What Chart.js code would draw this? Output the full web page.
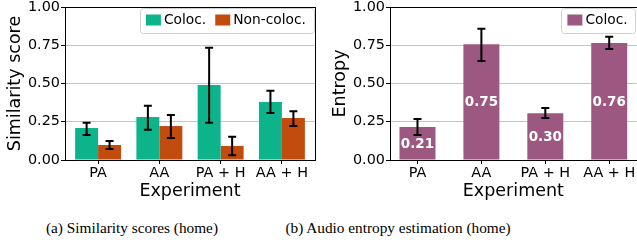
<!DOCTYPE html>
<html>
<head>
<meta charset="utf-8">
<script src="https://cdn.jsdelivr.net/npm/chart.js@4.4.0/dist/chart.umd.min.js"></script>
<style>
  html, body { margin: 0; padding: 0; background: #fff; }
  body { width: 637px; height: 243px; overflow: hidden; position: relative; }
  canvas { position: absolute; top: 0; }
  #simChart { left: 0; }
  #entChart { left: 325px; }
  .caption {
    position: absolute; top: 219px; width: 300px; text-align: center;
    font-family: "Liberation Serif", "Times New Roman", serif; font-size: 15.3px; color: #000;
    line-height: 17px; white-space: nowrap;
  }
</style>
</head>
<body>
<canvas id="simChart" width="320" height="200"></canvas>
<canvas id="entChart" width="320" height="200"></canvas>
<div class="caption" style="left: -18px;">(a) Similarity scores (home)</div>
<div class="caption" style="left: 248px;">(b) Audio entropy estimation (home)</div>
<script>
// values
const categories = ['PA', 'AA', 'PA + H', 'AA + H'];
const yTicks = [0, 0.25, 0.5, 0.75, 1];

const simColoc = [0.209, 0.281, 0.490, 0.379];
const simColocLow = [0.163, 0.198, 0.244, 0.307];
const simColocHigh = [0.244, 0.355, 0.734, 0.453];
const simNonColoc = [0.098, 0.222, 0.092, 0.275];
const simNonColocLow = [0.072, 0.144, 0.031, 0.222];
const simNonColocHigh = [0.124, 0.294, 0.152, 0.318];

const entropy = [0.215, 0.757, 0.306, 0.764];
const entropyLow = [0.163, 0.647, 0.275, 0.725];
const entropyHigh = [0.268, 0.858, 0.340, 0.806];
const entropyLabels = ['0.21', '0.75', '0.30', '0.76'];

const FONT = 'DejaVu Sans';
const TEAL = '#0db48b';
const RUST = '#c24c0e';
const PLUM = '#9d5881';

// error bars from dataset.errLow / errHigh
const errorBarPlugin = {
    id: 'errorBars',
    afterDatasetsDraw(chart) {
        const ctx = chart.ctx;
        const y = chart.scales.y;
        ctx.save();
        ctx.strokeStyle = '#000';
        ctx.lineWidth = 2;
        chart.data.datasets.forEach((ds, di) => {
            if (!ds.errLow) return;
            chart.getDatasetMeta(di).data.forEach((bar, i) => {
                const top = y.getPixelForValue(ds.errHigh[i]);
                const bot = y.getPixelForValue(ds.errLow[i]);
                ctx.beginPath();
                ctx.moveTo(bar.x, top); ctx.lineTo(bar.x, bot);
                ctx.moveTo(bar.x - 4, top); ctx.lineTo(bar.x + 4, top);
                ctx.moveTo(bar.x - 4, bot); ctx.lineTo(bar.x + 4, bot);
                ctx.stroke();
            });
        });
        ctx.restore();
    }
};

// white value labels in the middle of the bar
const valueLabelPlugin = {
    id: 'valueLabels',
    afterDatasetsDraw(chart) {
        const ctx = chart.ctx;
        ctx.save();
        ctx.fillStyle = '#fff';
        ctx.font = 'bold 13.5px "' + FONT + '"';
        ctx.textAlign = 'center';
        ctx.textBaseline = 'middle';
        chart.data.datasets.forEach((ds, di) => {
            if (!ds.valueLabels) return;
            chart.getDatasetMeta(di).data.forEach((bar, i) => {
                ctx.fillText(ds.valueLabels[i], bar.x, (bar.y + bar.base) / 2 + 1);
            });
        });
        ctx.restore();
    }
};

// black box around the plot and a matplotlib-like legend in the upper right
const framePlugin = {
    id: 'frameLegend',
    afterDraw(chart) {
        const ctx = chart.ctx;
        const a = chart.chartArea;
        ctx.save();
        ctx.strokeStyle = '#000';
        ctx.lineWidth = 1;
        ctx.strokeRect(Math.round(a.left) + 0.5, Math.round(a.top) + 0.5,
            Math.round(a.right - a.left), Math.round(a.bottom - a.top));

        ctx.font = '13.8px "' + FONT + '"';
        const items = chart.data.datasets.map(ds => ({ label: ds.label, color: ds.backgroundColor, w: ctx.measureText(ds.label).width }));
        let boxW = 6 + 8;
        items.forEach((it, i) => { boxW += 15 + 3 + it.w + (i ? 9 : 0); });
        const boxH = 25;
        const bx = a.right - 1 - boxW;
        const by = a.top + 0.5;
        ctx.beginPath();
        ctx.roundRect(Math.round(bx) + 0.5, Math.round(by) + 0.5, Math.round(boxW), boxH, 3);
        ctx.fillStyle = 'rgba(255,255,255,0.85)';
        ctx.fill();
        ctx.strokeStyle = '#d0d0d0';
        ctx.stroke();
        let x = bx + 6;
        const cy = by + boxH / 2;
        ctx.textBaseline = 'middle';
        ctx.textAlign = 'left';
        items.forEach((it, i) => {
            if (i) x += 9;
            ctx.fillStyle = it.color;
            ctx.fillRect(x, cy - 5.5, 15, 11);
            x += 18;
            ctx.fillStyle = '#000';
            ctx.fillText(it.label, x, cy + 0.5);
            x += it.w;
        });
        ctx.restore();
    }
};

function buildOptions(yTitle, xMin, xMax, rightPad, catPct) {
    return {
        responsive: false,
        animation: false,
        layout: { padding: { top: 7, right: rightPad, bottom: 0, left: 0 } },
        plugins: { legend: { display: false }, tooltip: { enabled: false } },
        datasets: { bar: { categoryPercentage: catPct, barPercentage: 1 } },
        scales: {
            x: {
                type: 'linear',
                min: xMin,
                max: xMax,
                offset: false,
                afterBuildTicks: s => { s.ticks = categories.map((c, i) => ({ value: i })); },
                afterFit: s => { s.height = 40; s.paddingLeft = 0; s.paddingRight = 0; },
                ticks: {
                    autoSkip: false, maxRotation: 0, color: '#000', padding: 1,
                    font: { family: FONT, size: 14.4 },
                    callback: v => categories[Math.round(v)]
                },
                grid: { offset: false, drawOnChartArea: false, tickColor: '#000', tickLength: 4 },
                border: { color: '#000' },
                title: { display: true, text: 'Experiment', color: '#000', font: { family: FONT, size: 17.5, lineHeight: 1.0 }, padding: { top: 0, bottom: 0 } }
            },
            y: {
                min: 0,
                max: 1,
                afterBuildTicks: s => { s.ticks = yTicks.map(v => ({ value: v })); },
                afterFit: s => { s.width = 65; s.paddingTop = 0; s.paddingBottom = 0; },
                ticks: {
                    color: '#000', padding: 1,
                    font: { family: FONT, size: 14.4 },
                    callback: v => v.toFixed(2)
                },
                grid: { color: '#c4c4c4', tickColor: '#000', tickLength: 4 },
                border: { color: '#000' },
                title: { display: true, text: yTitle, color: '#000', font: { family: FONT, size: 17.5 }, padding: { top: 5, bottom: 0 } }
            }
        }
    };
}

const toPoints = arr => arr.map((v, i) => ({ x: i, y: v }));

new Chart(document.getElementById('simChart'), {
    type: 'bar',
    data: {
        datasets: [
            { label: 'Coloc.', data: toPoints(simColoc), backgroundColor: TEAL, errLow: simColocLow, errHigh: simColocHigh },
            { label: 'Non-coloc.', data: toPoints(simNonColoc), backgroundColor: RUST, errLow: simNonColocLow, errHigh: simNonColocHigh }
        ]
    },
    options: buildOptions('Similarity score', -0.54, 3.54, 5, 0.75),
    plugins: [errorBarPlugin, framePlugin]
});

new Chart(document.getElementById('entChart'), {
    type: 'bar',
    data: {
        datasets: [
            { label: 'Coloc.', data: toPoints(entropy), backgroundColor: PLUM, errLow: entropyLow, errHigh: entropyHigh, valueLabels: entropyLabels }
        ]
    },
    options: buildOptions('Entropy', -0.43, 3.43, 8.3, 0.563),
    plugins: [valueLabelPlugin, errorBarPlugin, framePlugin]
});
</script>
</body>
</html>
